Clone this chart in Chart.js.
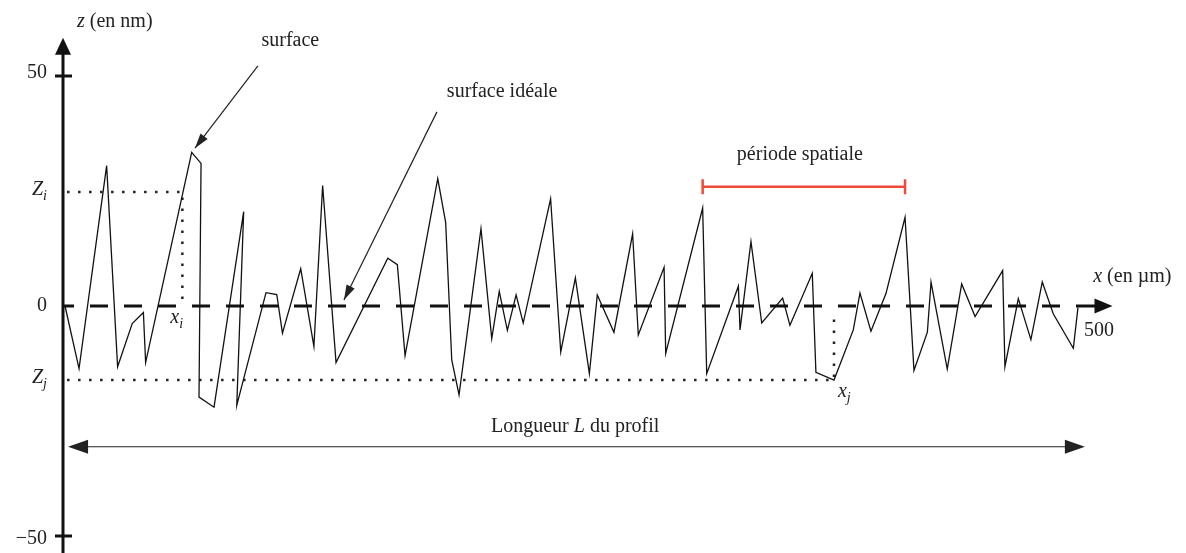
<!DOCTYPE html>
<html>
<head>
<meta charset="utf-8">
<script src="https://cdn.jsdelivr.net/npm/chart.js@4.4.1/dist/chart.umd.min.js"></script>
<style>
  html, body { margin: 0; padding: 0; background: #fff; }
  #wrap { width: 1186px; height: 553px; }
</style>
</head>
<body>
<div id="wrap"><canvas id="profileChart"></canvas></div>
<script>
// profil de rugosité : x en µm, z en nm
const profileX = [1, 7.9, 21.5, 26.9, 34.1, 39.6, 40.7, 63.4, 68.0, 67.0, 74.4, 89.0, 85.6, 100.0, 105.3,
    108.1, 117.1, 123.6, 127.9, 134.5, 160.0, 164.7, 168.5, 184.6, 188.5, 191.5, 195.1, 205.9, 211.2,
    214.9, 218.9, 223.2, 226.7, 240.2, 245.2, 252.4, 259.3, 263.2, 271.4, 280.6, 283.4, 296.1, 296.9,
    315.1, 317.1, 332.7, 333.5, 338.9, 344.2, 354.5, 358.1, 369.1, 370.9, 379.8, 389.3, 392.6, 398.0,
    405.4, 414.8, 419.2, 425.8, 427.6, 435.6, 442.7, 449.3, 462.9, 464.0, 470.6, 476.8, 482.4, 487.8,
    497.7, 500];
const profileZ = [0, -13.6, 30.5, -13.2, -3.8, -1.4, -12.3, 33.4, 31.0, -19.8, -22.0, 20.5, -21.6, 2.9, 2.5,
    -5.9, 8.1, -8.8, 26.2, -12.3, 10.4, 9.0, -10.8, 27.7, 18.2, -11.7, -19.3, 16.8, -7.1,
    3.2, -5.3, 2.4, -3.7, 23.3, -10.0, 6.1, -14.7, 2.4, -5.7, 15.7, -6.3, 8.4, -10.3,
    21.3, -14.7, 4.3, -5.2, 14.0, -3.7, 1.7, -4.2, 7.1, -14.4, -16.1, -5.2, 2.8, -5.5,
    2.7, 19.3, -14.0, -5.7, 5.2, -13.7, 4.8, -2.3, 7.7, -13.2, 1.6, -7.3, 5.2, -1.7,
    -9.2, -0.3];

const zTicks = [50, 0, -50];
const xTicks = [500];

// points remarquables
const xi = 58.8, Zi = 24.8;     // point i sur la montée
const jIndex = 53;              // point j = minimum du profil
const periodStart = 43, periodEnd = 58;  // pics encadrant la période spatiale

const profile = profileX.map((x, k) => ({ x: x, y: profileZ[k] }));
const xj = profileX[jIndex], Zj = profileZ[jIndex];

const serif = '"Liberation Serif", "DejaVu Serif", serif';

function arrowHead(ctx, x0, y0, x1, y1, len, half) {
    const a = Math.atan2(y1 - y0, x1 - x0);
    ctx.beginPath();
    ctx.moveTo(x1, y1);
    ctx.lineTo(x1 - len * Math.cos(a) + half * Math.sin(a), y1 - len * Math.sin(a) - half * Math.cos(a));
    ctx.lineTo(x1 - len * Math.cos(a) - half * Math.sin(a), y1 - len * Math.sin(a) + half * Math.cos(a));
    ctx.closePath();
    ctx.fill();
}

function subText(ctx, base, sub, x, y, align) {
    ctx.font = 'italic 20px ' + serif;
    const wb = ctx.measureText(base).width;
    ctx.font = 'italic 14px ' + serif;
    const ws = ctx.measureText(sub).width;
    let left = align === 'right' ? x - wb - ws : x;
    ctx.textAlign = 'left';
    ctx.textBaseline = 'middle';
    ctx.font = 'italic 20px ' + serif;
    ctx.fillText(base, left, y);
    ctx.font = 'italic 14px ' + serif;
    ctx.fillText(sub, left + wb, y + 6);
}

const drawing = {
    id: 'drawing',
    beforeDatasetsDraw(chart) {
        const ctx = chart.ctx;
        const sx = chart.scales.x, sy = chart.scales.y;
        const X = v => sx.getPixelForValue(v), Y = v => sy.getPixelForValue(v);
        ctx.save();
        ctx.fillStyle = '#111';
        ctx.strokeStyle = '#111';

        // axe z
        ctx.lineWidth = 3;
        ctx.beginPath();
        ctx.moveTo(X(0), chart.height);
        ctx.lineTo(X(0), Y(58.3) + 12);
        ctx.stroke();
        arrowHead(ctx, X(0), Y(0), X(0), Y(58.3), 17, 8);
        zTicks.forEach(t => {
            if (t !== 0) {
                ctx.beginPath();
                ctx.moveTo(X(0) - 8, Y(t));
                ctx.lineTo(X(0) + 9, Y(t));
                ctx.stroke();
            }
        });

        // axe x en tirets
        ctx.setLineDash([18, 16]);
        ctx.lineDashOffset = 7;
        ctx.beginPath();
        ctx.moveTo(X(0), Y(0));
        ctx.lineTo(X(500), Y(0));
        ctx.stroke();
        ctx.setLineDash([]);
        ctx.beginPath();
        ctx.moveTo(X(500), Y(0));
        ctx.lineTo(X(517) - 15, Y(0));
        ctx.stroke();
        arrowHead(ctx, X(0), Y(0), X(517), Y(0), 18, 7.5);
        ctx.restore();
    },
    afterDatasetsDraw(chart) {
        const ctx = chart.ctx;
        const sx = chart.scales.x, sy = chart.scales.y;
        const X = v => sx.getPixelForValue(v), Y = v => sy.getPixelForValue(v);
        ctx.save();
        ctx.fillStyle = '#222';
        ctx.strokeStyle = '#222';

        // graduations
        ctx.font = '20px ' + serif;
        ctx.textAlign = 'right';
        ctx.textBaseline = 'middle';
        zTicks.forEach(t => {
            const lab = t < 0 ? '\u2212' + Math.abs(t) : String(t);
            ctx.fillText(lab, X(0) - 16, Y(t) - (t > 0 ? 3 : 0) + (t < 0 ? 3 : 0));
        });
        ctx.textAlign = 'left';
        xTicks.forEach(t => ctx.fillText(String(t), X(t) + 6, Y(0) + 25));

        // titres d'axes
        ctx.font = 'italic 20px ' + serif;
        ctx.fillText('z', X(6.9), Y(61.7));
        let w = ctx.measureText('z ').width;
        ctx.font = '20px ' + serif;
        ctx.fillText('(en nm)', X(6.9) + w, Y(61.7));
        ctx.font = 'italic 20px ' + serif;
        ctx.fillText('x', X(507.5), Y(6.3));
        w = ctx.measureText('x ').width;
        ctx.font = '20px ' + serif;
        ctx.fillText('(en \u00b5m)', X(507.5) + w, Y(6.3));

        // Zi, Zj, xi, xj
        subText(ctx, 'Z', 'i', X(0) - 16, Y(Zi) - 2, 'right');
        subText(ctx, 'Z', 'j', X(0) - 16, Y(Zj) - 2, 'right');
        subText(ctx, 'x', 'i', X(xi) - 12, Y(0) + 12, 'left');
        subText(ctx, 'x', 'j', X(xj) + 4, Y(Zj) + 12, 'left');

        // annotations
        ctx.font = '20px ' + serif;
        ctx.textAlign = 'center';
        ctx.fillText('surface', X(112), Y(57.6));
        ctx.fillText('surface id\u00e9ale', X(216.3), Y(46.5));
        ctx.fillText('p\u00e9riode spatiale', X(363), Y(32.8));
        const lw = ctx.measureText('Longueur ').width;
        const lt = ctx.measureText('Longueur ').width + ctx.measureText(' du profil').width;
        ctx.font = 'italic 20px ' + serif;
        const li = ctx.measureText('L').width;
        const total = lt + li;
        let x0 = X(252.3) - total / 2;
        ctx.textAlign = 'left';
        ctx.font = '20px ' + serif;
        ctx.fillText('Longueur ', x0, Y(-26.3));
        ctx.font = 'italic 20px ' + serif;
        ctx.fillText('L', x0 + lw, Y(-26.3));
        ctx.font = '20px ' + serif;
        ctx.fillText(' du profil', x0 + lw + li, Y(-26.3));

        // flèches
        ctx.lineWidth = 1.2;
        const arrows = [[96, 52.2, 65, 34.3], [184.2, 42.2, 138.4, 1.3]];
        arrows.forEach(a => {
            ctx.beginPath();
            ctx.moveTo(X(a[0]), Y(a[1]));
            ctx.lineTo(X(a[2]), Y(a[3]));
            ctx.stroke();
            arrowHead(ctx, X(a[0]), Y(a[1]), X(a[2]), Y(a[3]), 15, 4.5);
        });

        // longueur L
        const yL = Y(-30.6);
        ctx.beginPath();
        ctx.moveTo(X(2.5) + 10, yL);
        ctx.lineTo(X(503.4) - 10, yL);
        ctx.stroke();
        arrowHead(ctx, X(503.4), yL, X(2.5), yL, 20, 7);
        arrowHead(ctx, X(2.5), yL, X(503.4), yL, 20, 7);

        // période spatiale en rouge
        const yP = Y(25.9);
        const pa = X(profileX[periodStart]), pb = X(profileX[periodEnd]);
        ctx.strokeStyle = '#ef4a3a';
        ctx.lineWidth = 2.5;
        ctx.beginPath();
        ctx.moveTo(pa, yP);
        ctx.lineTo(pb, yP);
        ctx.moveTo(pa, yP - 7.5);
        ctx.lineTo(pa, yP + 7.5);
        ctx.moveTo(pb, yP - 7.5);
        ctx.lineTo(pb, yP + 7.5);
        ctx.stroke();
        ctx.restore();
    }
};

const dotted = { borderColor: '#222', borderWidth: 2.5, borderDash: [2.5, 8.5], pointRadius: 0, fill: false, showLine: true, clip: false };

new Chart(document.getElementById('profileChart').getContext('2d'), {
    type: 'scatter',
    data: {
        datasets: [
            {
                label: 'profil',
                data: profile,
                showLine: true,
                borderColor: '#111',
                borderWidth: 1.3,
                pointRadius: 0,
                tension: 0,
                clip: false
            },
            Object.assign({ label: 'Zi', data: [{ x: 2, y: Zi }, { x: xi, y: Zi }, { x: xi, y: 0 }] }, dotted),
            Object.assign({ label: 'Zj', data: [{ x: 2, y: Zj }, { x: xj, y: Zj }, { x: xj, y: -1.5 }] }, dotted)
        ]
    },
    options: {
        responsive: true,
        maintainAspectRatio: false,
        animation: false,
        layout: { padding: { left: 63, right: 108, top: 76, bottom: 17 } },
        scales: {
            x: { type: 'linear', min: 0, max: 500, display: false },
            y: { min: -50, max: 50, display: false }
        },
        plugins: {
            legend: { display: false },
            tooltip: { enabled: false }
        }
    },
    plugins: [drawing]
});
</script>
</body>
</html>
